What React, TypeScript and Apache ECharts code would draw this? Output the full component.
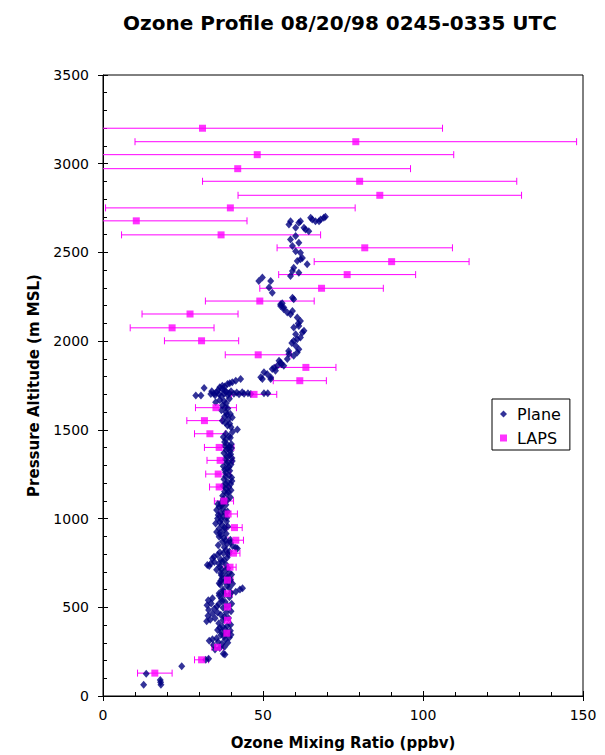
import React, { useEffect, useRef } from "react";
import * as echarts from "echarts";

const titleText = "Ozone Profile 08/20/98 0245-0335 UTC";
const xAxisName = "Ozone Mixing Ratio (ppbv)";
const yAxisName = "Pressure Altitude (m MSL)";
const xRange = [0, 150];
const xStep = 50;
const yRange = [0, 3500];
const yStep = 500;

// LAPS: altitude (m), ozone (ppbv), symmetric error (ppbv)
const lapsAltitude = [
  3200, 3124, 3051, 2972, 2901, 2822, 2751, 2678, 2599, 2526, 2448, 2375, 2298, 2226,
  2153, 2075, 2002, 1923, 1852, 1777, 1700, 1625, 1552, 1478, 1401, 1328, 1251, 1178,
  1099, 1026, 949, 878, 805, 726, 653, 577, 502, 427, 354, 275, 204, 129,
];
const lapsOzone = [
  31.1, 79.0, 48.2, 42.1, 80.2, 86.5, 39.8, 10.4, 36.9, 81.8, 90.2, 76.3, 68.3, 49.0,
  27.2, 21.6, 30.8, 48.5, 63.4, 61.5, 47.2, 35.3, 31.7, 33.4, 36.3, 36.6, 36.0, 36.3,
  37.8, 39.1, 41.1, 41.5, 40.8, 39.7, 38.9, 38.9, 38.9, 38.9, 38.7, 35.8, 30.8, 16.2,
];
const lapsError = [
  75.0, 69.0, 61.4, 54.0, 49.1, 44.3, 39.0, 34.6, 31.1, 27.4, 24.2, 21.4, 19.3, 17.0,
  15.0, 13.1, 11.6, 10.3, 9.4, 8.3, 7.1, 6.4, 5.5, 4.8, 4.6, 4.1, 3.9, 3.0,
  3.0, 2.9, 2.4, 2.4, 2.0, 1.9, 1.7, 1.5, 1.0, 1.0, 1.0, 1.8, 2.2, 5.4,
];

// Plane: [ozone (ppbv), altitude (m)]
const planePoints: number[][] = [
  [12.7, 63], [13.5, 125], [18.1, 63], [17.9, 90], [18.0, 78], [24.6, 167], [32.1, 204], [33.0, 210], [38.1, 234], [37.6, 238],
  [35.0, 262], [36.5, 270], [38.0, 278], [34.5, 288], [37.2, 295], [39.0, 300], [33.2, 311], [34.2, 320], [35.5, 326], [36.8, 344],
  [37.8, 335], [39.5, 330], [38.5, 352], [37.0, 360], [39.8, 368], [38.2, 376], [36.5, 385], [38.8, 395],
  [36.0, 305], [38.2, 318], [40.0, 345], [35.8, 372], [37.4, 390], [39.9, 402], [36.2, 410],
  [32.4, 421], [33.5, 430], [35.0, 438], [37.5, 428], [39.2, 440], [32.8, 452], [34.2, 463], [36.8, 458], [38.5, 470], [40.0, 478],
  [33.0, 484], [34.8, 492], [37.5, 498], [39.0, 505], [32.5, 512], [33.8, 522], [36.2, 518], [38.2, 530], [32.9, 540], [34.2, 551],
  [37.0, 548], [39.5, 556], [35.8, 470], [37.9, 445], [35.6, 505], [37.2, 535], [40.2, 520],
  [36.3, 566], [38.0, 572], [40.0, 580], [36.3, 579], [41.5, 588], [43.6, 607], [42.8, 600], [37.5, 600], [39.5, 610], [36.6, 629],
  [38.8, 620], [40.5, 632], [36.3, 635], [38.0, 645], [39.8, 655], [37.2, 662], [38.5, 675], [40.2, 685], [36.8, 692],
  [37.5, 590], [39.2, 640], [36.8, 650], [38.9, 665], [37.0, 680], [39.5, 695],
  [33.2, 732], [32.6, 738], [33.7, 747], [37.3, 757], [35.5, 712], [38.0, 705], [39.0, 720], [36.5, 728], [34.2, 775], [34.7, 785],
  [35.8, 794], [37.8, 765], [38.8, 780], [36.8, 770], [39.2, 798], [34.8, 755], [36.2, 745], [38.5, 740], [37.0, 715],
  [42.0, 831], [41.5, 836], [38.4, 822], [37.3, 869], [36.5, 810], [39.5, 815], [40.5, 845], [36.0, 850], [38.8, 858], [39.8, 880],
  [37.8, 890], [36.3, 898], [37.6, 805], [37.9, 838], [39.9, 865], [38.3, 876],
  [36.8, 906], [38.5, 915], [35.5, 925], [37.8, 935], [36.3, 944], [39.0, 955], [35.2, 972], [37.2, 965], [38.6, 985], [35.8, 1000],
  [37.5, 1010], [36.8, 1028], [38.9, 1040], [35.5, 1048], [37.4, 1055], [36.3, 1066], [38.4, 1078], [36.9, 1088], [38.0, 1094],
  [36.6, 920], [38.0, 950], [36.5, 980], [37.0, 995], [38.7, 1005], [36.0, 1020], [38.1, 1035], [37.0, 1072], [35.9, 1082],
  [38.7, 1140], [39.8, 1120], [37.6, 1110], [38.4, 1169], [40.0, 1160], [37.5, 1185], [38.9, 1206], [39.9, 1195], [37.8, 1222], [39.4, 1243],
  [38.3, 1260], [40.2, 1232], [38.9, 1281], [37.6, 1295], [40.0, 1305], [39.1, 1318], [38.2, 1335], [40.3, 1342], [39.4, 1356], [37.8, 1370],
  [39.8, 1380], [39.1, 1393], [38.0, 1410], [40.1, 1420], [38.0, 1431],
  [38.9, 1105], [37.4, 1128], [39.2, 1150], [38.0, 1152], [39.3, 1178], [38.4, 1195], [40.3, 1212], [38.3, 1238], [39.6, 1270], [38.0, 1275],
  [39.4, 1290], [38.6, 1310], [40.4, 1325], [38.7, 1350], [39.9, 1362], [38.5, 1385], [40.2, 1398], [39.0, 1415],
  [39.4, 1403], [38.4, 1445], [38.4, 1478], [39.5, 1465], [42.0, 1502], [40.5, 1490], [38.9, 1524], [40.0, 1515], [37.3, 1552], [39.2, 1560],
  [38.0, 1575], [38.4, 1599], [39.8, 1590], [37.0, 1610], [39.0, 1620], [37.3, 1637], [35.2, 1655], [38.5, 1650], [36.5, 1668], [39.5, 1675],
  [39.8, 1455], [37.6, 1460], [39.6, 1535], [38.2, 1540], [40.4, 1570], [38.8, 1585], [38.2, 1628], [37.8, 1662],
  [29.0, 1693], [30.6, 1693], [31.6, 1736], [33.7, 1702], [34.7, 1705], [36.3, 1700], [37.8, 1703], [39.4, 1706], [40.9, 1703], [42.5, 1700],
  [44.1, 1703], [45.3, 1706], [50.3, 1706], [51.5, 1706], [35.5, 1712], [38.5, 1715], [37.0, 1690], [38.0, 1722], [36.0, 1725], [41.8, 1710],
  [43.5, 1712], [46.2, 1702], [35.0, 1695], [39.0, 1695], [36.5, 1740], [34.0, 1718], [40.0, 1718], [37.2, 1730],
  [37.3, 1749], [38.9, 1758], [40.4, 1768], [41.5, 1777], [43.0, 1787], [38.0, 1745], [39.6, 1762],
  [49.8, 1787], [52.4, 1787], [49.3, 1796], [52.4, 1796], [51.3, 1815], [50.3, 1824], [53.9, 1833], [52.9, 1843], [54.5, 1861], [56.5, 1861],
  [55.5, 1880], [55.0, 1890], [57.6, 1899], [53.5, 1850], [55.8, 1870],
  [58.1, 1927], [59.6, 1918], [60.7, 1936], [61.2, 1955], [60.2, 1974], [59.6, 2002], [60.7, 2011], [61.7, 2021], [60.2, 2039], [62.3, 2049],
  [62.8, 2058], [59.6, 2077], [61.2, 2086], [61.7, 2114], [60.7, 2133], [58.6, 2152], [59.2, 2170], [57.6, 2161], [56.5, 2180], [55.5, 2198],
  [56.0, 2213], [59.0, 1990], [61.0, 2100], [58.0, 1945],
  [55.5, 2208], [56.5, 2189], [59.2, 2245], [59.6, 2236], [52.9, 2273], [51.9, 2302], [52.4, 2339], [48.7, 2339], [49.8, 2358], [58.6, 2367],
  [61.2, 2386], [59.2, 2395], [59.6, 2414], [63.8, 2433],
  [60.7, 2451], [61.7, 2461], [62.3, 2468], [61.7, 2498], [60.2, 2507], [59.2, 2536], [61.2, 2554], [58.6, 2573], [60.2, 2592], [60.2, 2639],
  [62.8, 2639], [63.3, 2629], [64.3, 2620], [58.1, 2657], [58.6, 2676], [61.2, 2667], [61.7, 2676], [64.9, 2695], [65.4, 2685], [66.4, 2676],
  [67.5, 2676], [68.0, 2685], [69.0, 2695], [69.5, 2701],
];

const FONT = "DejaVu Sans";
const PLANE_COLOR = "#000080";
const LAPS_COLOR = "#FF00FF";

export default function App() {
  const ref = useRef<HTMLDivElement>(null);
  useEffect(() => {
    if (!ref.current) return;
    const chart = echarts.init(ref.current, null, { renderer: "svg" });
    const lapsData = lapsOzone.map((v, i) => [v, lapsAltitude[i]]);
    const errData = lapsOzone.map((v, i) => [v, lapsAltitude[i], lapsError[i]]);
    const axisCommon = {
      type: "value" as const,
      splitLine: { show: false },
      axisLine: { show: true, lineStyle: { color: "#000", width: 1 } },
    };
    const plain = (v: number) => String(v);
    chart.setOption({
      animation: false,
      backgroundColor: "#fff",
      textStyle: { fontFamily: FONT },
      title: {
        text: titleText,
        left: 335,
        top: 8,
        textAlign: "center",
        textStyle: { fontFamily: FONT, fontSize: 20, fontWeight: "bold", color: "#000" },
      },
      grid: {
        left: 103,
        top: 75,
        right: 22,
        bottom: 57,
        show: true,
        borderColor: "#000",
        borderWidth: 1,
        backgroundColor: "transparent",
      },
      legend: {
        orient: "vertical",
        left: 492,
        top: 399,
        padding: [7, 9, 4, 8],
        itemGap: 8,
        itemWidth: 7,
        itemHeight: 7,
        borderColor: "#000",
        borderWidth: 1,
        backgroundColor: "#fff",
        textStyle: { fontFamily: FONT, fontSize: 16, color: "#000", padding: [0, 0, 0, 5] },
        data: [
          { name: "Plane", icon: "diamond" },
          { name: "LAPS", icon: "rect" },
        ],
      },
      xAxis: [
        {
          ...axisCommon,
          min: xRange[0],
          max: xRange[1],
          interval: xStep,
          position: "bottom",
          name: xAxisName,
          nameLocation: "middle",
          nameGap: 39,
          nameTextStyle: { fontFamily: FONT, fontSize: 15, fontWeight: "bold", color: "#000" },
          axisTick: { show: true, inside: true, length: 5, lineStyle: { color: "#000" } },
          minorTick: { show: true, splitNumber: 5, length: 4, lineStyle: { color: "#000" } },
          axisLabel: { fontFamily: FONT, fontSize: 14, color: "#000", margin: 12, formatter: plain },
        },
        {
          ...axisCommon,
          min: xRange[0],
          max: xRange[1],
          interval: xStep,
          position: "bottom",
          axisLine: { show: false },
          axisTick: { show: true, inside: false, length: 5, lineStyle: { color: "#000" } },
          axisLabel: { show: false },
        },
      ],
      yAxis: [
        {
          ...axisCommon,
          min: yRange[0],
          max: yRange[1],
          interval: yStep,
          position: "left",
          name: yAxisName,
          nameLocation: "middle",
          nameGap: 62,
          nameTextStyle: { fontFamily: FONT, fontSize: 15, fontWeight: "bold", color: "#000" },
          axisTick: { show: true, inside: true, length: 5, lineStyle: { color: "#000" } },
          minorTick: { show: true, splitNumber: 5, length: 4, lineStyle: { color: "#000" } },
          axisLabel: { fontFamily: FONT, fontSize: 14, color: "#000", margin: 14, formatter: plain },
        },
        {
          ...axisCommon,
          min: yRange[0],
          max: yRange[1],
          interval: yStep,
          position: "left",
          axisLine: { show: false },
          axisTick: { show: true, inside: false, length: 5, lineStyle: { color: "#000" } },
          axisLabel: { show: false },
        },
      ],
      series: [
        {
          type: "custom",
          name: "LAPS error",
          xAxisIndex: 0,
          yAxisIndex: 0,
          clip: true,
          silent: true,
          encode: { x: 0, y: 1 },
          data: errData,
          renderItem: (params: any, api: any) => {
            const x = api.value(0);
            const y = api.value(1);
            const e = api.value(2);
            const p1 = api.coord([x - e, y]);
            const p2 = api.coord([x + e, y]);
            const h = 3.5;
            const st = { stroke: LAPS_COLOR, lineWidth: 1 };
            return {
              type: "group",
              children: [
                { type: "line", shape: { x1: p1[0], y1: p1[1], x2: p2[0], y2: p2[1] }, style: st },
                { type: "line", shape: { x1: p1[0], y1: p1[1] - h, x2: p1[0], y2: p1[1] + h }, style: st },
                { type: "line", shape: { x1: p2[0], y1: p2[1] - h, x2: p2[0], y2: p2[1] + h }, style: st },
              ],
            };
          },
          z: 1,
        },
        {
          type: "scatter",
          name: "Plane",
          xAxisIndex: 0,
          yAxisIndex: 0,
          symbol: "diamond",
          symbolSize: [7, 8],
          itemStyle: { color: PLANE_COLOR },
          data: planePoints,
          z: 2,
        },
        {
          type: "scatter",
          name: "LAPS",
          xAxisIndex: 0,
          yAxisIndex: 0,
          symbol: "rect",
          symbolSize: 7,
          itemStyle: { color: LAPS_COLOR },
          data: lapsData,
          z: 3,
        },
      ],
    });
    return () => chart.dispose();
  }, []);
  return (
    <div
      ref={ref}
      style={{ position: "fixed", left: 0, top: 0, width: 605, height: 755, background: "#fff" }}
    />
  );
}
